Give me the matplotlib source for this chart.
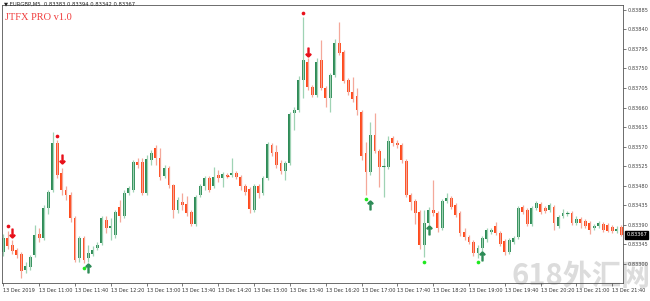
import numpy as np
import matplotlib
matplotlib.use("Agg")
import matplotlib.pyplot as plt

# EURGBP M5 candles, 13 Dec 2019, first bar 10:20
opens = [0.83328, 0.83360, 0.83344, 0.83332, 0.83323, 0.83286, 0.83293, 0.83321, 0.83369, 0.83360,
         0.83429, 0.83470, 0.83579, 0.83510, 0.83470, 0.83459, 0.83406, 0.83314, 0.83360, 0.83314,
         0.83323, 0.83337, 0.83348, 0.83401, 0.83383, 0.83367, 0.83431, 0.83411, 0.83464, 0.83470,
         0.83535, 0.83535, 0.83464, 0.83540, 0.83567, 0.83544, 0.83503, 0.83521, 0.83482, 0.83424,
         0.83443, 0.83438, 0.83420, 0.83392, 0.83459, 0.83480, 0.83498, 0.83480, 0.83505, 0.83498,
         0.83505, 0.83505, 0.83510, 0.83500, 0.83480, 0.83473, 0.83424, 0.83480, 0.83464, 0.83498,
         0.83574, 0.83558, 0.83533, 0.83514, 0.83533, 0.83648, 0.83655, 0.83724, 0.83765, 0.83708,
         0.83689, 0.83770, 0.83705, 0.83682, 0.83735, 0.83809, 0.83788, 0.83724, 0.83696, 0.83687,
         0.83650, 0.83556, 0.83512, 0.83597, 0.83560, 0.83523, 0.83523, 0.83590, 0.83579, 0.83574,
         0.83537, 0.83459, 0.83445, 0.83420, 0.83344, 0.83394, 0.83424, 0.83417, 0.83383, 0.83445,
         0.83452, 0.83436, 0.83417, 0.83374, 0.83362, 0.83351, 0.83325, 0.83337, 0.83358, 0.83374,
         0.83388, 0.83371, 0.83353, 0.83328, 0.83351, 0.83362, 0.83431, 0.83424, 0.83392, 0.83429,
         0.83438, 0.83429, 0.83424, 0.83431, 0.83388, 0.83411, 0.83415, 0.83417, 0.83394, 0.83404,
         0.83399, 0.83394, 0.83383, 0.83388, 0.83392, 0.83390, 0.83385, 0.83376, 0.83385]
closes = [0.83360, 0.83341, 0.83330, 0.83321, 0.83284, 0.83295, 0.83316, 0.83367, 0.83360, 0.83429,
          0.83466, 0.83579, 0.83505, 0.83470, 0.83459, 0.83406, 0.83309, 0.83360, 0.83309, 0.83325,
          0.83332, 0.83344, 0.83406, 0.83383, 0.83388, 0.83420, 0.83411, 0.83464, 0.83475, 0.83535,
          0.83528, 0.83464, 0.83542, 0.83556, 0.83544, 0.83500, 0.83521, 0.83482, 0.83424, 0.83447,
          0.83436, 0.83417, 0.83392, 0.83454, 0.83480, 0.83498, 0.83470, 0.83500, 0.83498, 0.83507,
          0.83503, 0.83510, 0.83500, 0.83480, 0.83466, 0.83427, 0.83480, 0.83464, 0.83498, 0.83576,
          0.83556, 0.83528, 0.83514, 0.83533, 0.83645, 0.83655, 0.83724, 0.83770, 0.83708, 0.83689,
          0.83765, 0.83705, 0.83682, 0.83735, 0.83809, 0.83786, 0.83721, 0.83696, 0.83680, 0.83655,
          0.83549, 0.83512, 0.83597, 0.83560, 0.83523, 0.83526, 0.83583, 0.83579, 0.83574, 0.83540,
          0.83459, 0.83443, 0.83417, 0.83344, 0.83394, 0.83424, 0.83417, 0.83383, 0.83445, 0.83452,
          0.83431, 0.83413, 0.83371, 0.83362, 0.83351, 0.83325, 0.83337, 0.83360, 0.83378, 0.83378,
          0.83371, 0.83346, 0.83328, 0.83355, 0.83360, 0.83429, 0.83420, 0.83392, 0.83429, 0.83440,
          0.83420, 0.83422, 0.83436, 0.83394, 0.83408, 0.83417, 0.83417, 0.83394, 0.83404, 0.83394,
          0.83388, 0.83378, 0.83388, 0.83394, 0.83378, 0.83376, 0.83376, 0.83381, 0.83367]
highs = [0.83369, 0.83376, 0.83355, 0.83337, 0.83328, 0.83305, 0.83321, 0.83390, 0.83383, 0.83436,
         0.83470, 0.83604, 0.83586, 0.83521, 0.83480, 0.83466, 0.83411, 0.83364, 0.83364, 0.83344,
         0.83341, 0.83351, 0.83411, 0.83411, 0.83406, 0.83424, 0.83447, 0.83470, 0.83480, 0.83540,
         0.83544, 0.83544, 0.83551, 0.83563, 0.83574, 0.83567, 0.83528, 0.83526, 0.83484, 0.83454,
         0.83464, 0.83457, 0.83424, 0.83459, 0.83484, 0.83503, 0.83503, 0.83523, 0.83516, 0.83512,
         0.83510, 0.83544, 0.83514, 0.83505, 0.83484, 0.83477, 0.83484, 0.83484, 0.83503, 0.83581,
         0.83579, 0.83574, 0.83540, 0.83537, 0.83650, 0.83662, 0.83733, 0.83869, 0.83774, 0.83712,
         0.83774, 0.83816, 0.83710, 0.83740, 0.83818, 0.83857, 0.83793, 0.83728, 0.83731, 0.83705,
         0.83655, 0.83581, 0.83627, 0.83648, 0.83565, 0.83544, 0.83595, 0.83595, 0.83586, 0.83579,
         0.83542, 0.83464, 0.83450, 0.83424, 0.83424, 0.83431, 0.83493, 0.83422, 0.83450, 0.83464,
         0.83457, 0.83440, 0.83422, 0.83383, 0.83367, 0.83355, 0.83344, 0.83364, 0.83383, 0.83383,
         0.83397, 0.83376, 0.83358, 0.83360, 0.83364, 0.83434, 0.83436, 0.83429, 0.83434, 0.83445,
         0.83443, 0.83434, 0.83440, 0.83436, 0.83413, 0.83427, 0.83422, 0.83422, 0.83411, 0.83408,
         0.83404, 0.83399, 0.83392, 0.83399, 0.83397, 0.83394, 0.83390, 0.83388, 0.83390]
lows = [0.83318, 0.83335, 0.83323, 0.83314, 0.83268, 0.83279, 0.83286, 0.83316, 0.83351, 0.83355,
        0.83415, 0.83466, 0.83498, 0.83459, 0.83447, 0.83397, 0.83305, 0.83305, 0.83302, 0.83305,
        0.83318, 0.83332, 0.83344, 0.83371, 0.83355, 0.83360, 0.83397, 0.83406, 0.83459, 0.83466,
        0.83521, 0.83459, 0.83459, 0.83528, 0.83528, 0.83493, 0.83498, 0.83475, 0.83406, 0.83417,
        0.83424, 0.83411, 0.83388, 0.83388, 0.83454, 0.83470, 0.83466, 0.83475, 0.83489, 0.83477,
        0.83498, 0.83500, 0.83496, 0.83470, 0.83459, 0.83417, 0.83420, 0.83452, 0.83459, 0.83493,
        0.83549, 0.83521, 0.83507, 0.83493, 0.83528, 0.83609, 0.83650, 0.83682, 0.83701, 0.83685,
        0.83685, 0.83701, 0.83662, 0.83650, 0.83731, 0.83781, 0.83717, 0.83689, 0.83673, 0.83643,
        0.83540, 0.83459, 0.83505, 0.83556, 0.83477, 0.83454, 0.83519, 0.83572, 0.83567, 0.83533,
        0.83454, 0.83424, 0.83392, 0.83335, 0.83316, 0.83390, 0.83411, 0.83374, 0.83378, 0.83440,
        0.83427, 0.83408, 0.83364, 0.83355, 0.83346, 0.83318, 0.83314, 0.83328, 0.83351, 0.83369,
        0.83367, 0.83341, 0.83321, 0.83323, 0.83346, 0.83358, 0.83415, 0.83388, 0.83388, 0.83424,
        0.83415, 0.83417, 0.83420, 0.83378, 0.83383, 0.83406, 0.83411, 0.83390, 0.83390, 0.83383,
        0.83383, 0.83369, 0.83378, 0.83383, 0.83374, 0.83374, 0.83371, 0.83371, 0.83364]

# indicator signals (bar index, price)
sell_dot_bars = [1, 12, 67]
sell_dot_prices = [0.83387, 0.83594, 0.83878]
sell_arrow_bars = [2, 13, 68]
sell_arrow_prices = [0.83371, 0.83541, 0.83788]
buy_dot_bars = [18, 81, 94, 106]
buy_dot_prices = [0.83291, 0.83449, 0.83305, 0.83305]
buy_arrow_bars = [19, 82, 95, 107]
buy_arrow_prices = [0.83291, 0.83435, 0.83378, 0.83318]

price_ticks = [0.83885, 0.83840, 0.83795, 0.83750, 0.83705, 0.83660, 0.83615, 0.83570,
               0.83525, 0.83480, 0.83435, 0.83390, 0.83345, 0.83300]
time_labels = ["13 Dec 2019", "13 Dec 11:00", "13 Dec 11:40", "13 Dec 12:20", "13 Dec 13:00",
               "13 Dec 13:40", "13 Dec 14:20", "13 Dec 15:00", "13 Dec 15:40", "13 Dec 16:20",
               "13 Dec 17:00", "13 Dec 17:40", "13 Dec 18:20", "13 Dec 19:00", "13 Dec 19:40",
               "13 Dec 20:20", "13 Dec 21:00", "13 Dec 21:40"]
last_price = 0.83367

o = np.array(opens); c = np.array(closes)
h = np.array(highs); l = np.array(lows)
idx = np.arange(len(o))
up = c >= o

GREEN = "#2e8b57"
RED = "#ff4a1c"

fig = plt.figure(figsize=(6.5, 3.01), dpi=100)
ax = fig.add_axes([2/650, 1 - 283/301, 621/650, 278/301])
ax.patch.set_alpha(0)

ax.vlines(idx[up], l[up], h[up], color="#9fd3b4", lw=0.9)
ax.vlines(idx[~up], l[~up], h[~up], color="#f4a89a", lw=0.9)
ax.bar(idx[up], c[up] - o[up], bottom=o[up], width=0.64, color=GREEN, lw=0)
ax.bar(idx[~up], o[~up] - c[~up], bottom=c[~up], width=0.64, color=RED, lw=0)
# doji bars get a thin line
flat = np.abs(c - o) < 0.00003
ax.hlines(c[flat], idx[flat] - 0.35, idx[flat] + 0.35, color=np.where(up[flat], GREEN, RED), lw=0.8)

ax.scatter(sell_dot_bars, sell_dot_prices, s=7, color="#e8101a", zorder=5, lw=0)
ax.scatter(buy_dot_bars, buy_dot_prices, s=7, color="#1ee81e", zorder=5, lw=0)
ax.scatter(sell_arrow_bars, sell_arrow_prices, s=40, marker=r"$\downarrow$", color="#e8101a", zorder=5)
ax.scatter(buy_arrow_bars, buy_arrow_prices, s=40, marker=r"$\uparrow$", color=GREEN, zorder=5)

ax.set_xlim(-0.3, 138.4)
ax.set_ylim(0.83256, 0.83896)

ax.yaxis.tick_right()
ax.set_yticks(price_ticks)
ax.set_yticklabels(["%.5f" % p for p in price_ticks])
ax.set_xticks(np.arange(0, 8 * len(time_labels), 8))
ax.set_xticklabels(time_labels, ha="left")
ax.tick_params(axis="both", labelsize=3.6, colors="#444444", length=2, width=0.5, pad=1.5)
for lab in ax.get_xticklabels():
    lab.set_color("#333333")
for sp in ax.spines.values():
    sp.set_linewidth(0.6)
    sp.set_color("#555555")

# current price box
ax.annotate("%.5f" % last_price, xy=(1.0, last_price), xycoords=("axes fraction", "data"),
            xytext=(2.5, 0), textcoords="offset points", ha="left", va="center",
            fontsize=3.6, color="white",
            bbox=dict(boxstyle="square,pad=0.25", fc="black", ec="black"))

fig.text(4/650, 1 - 4/301, "\u25bc EURGBP,M5  0.83383 0.83394 0.83342 0.83367",
         fontsize=3.8, color="#222222", va="center", ha="left")
fig.text(5/650, 1 - 17/301, "JTFX PRO v1.0", fontsize=7.5, color="#f03c3c",
         family="Liberation Serif", va="center", ha="left")

# watermark, sits behind the chart
fig.text(581/650, 1 - 276/301, "618外汇网", fontsize=21, color="#dcdcdc",
         family=["Noto Sans CJK SC", "DejaVu Sans"], weight="bold",
         ha="center", va="center", zorder=-1)

fig.savefig("out.png", dpi=100)
